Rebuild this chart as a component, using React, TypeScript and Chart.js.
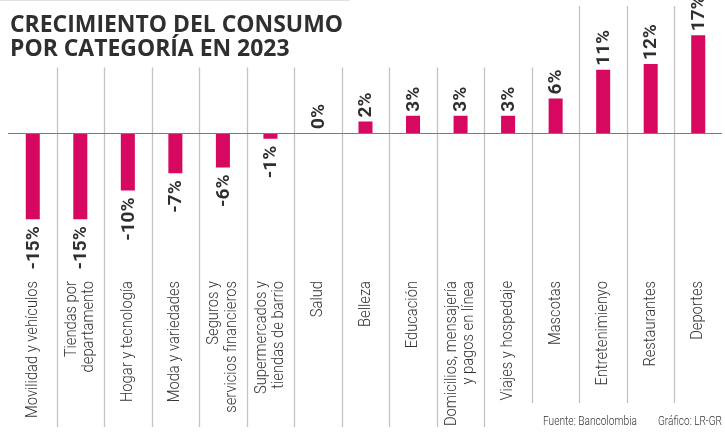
import React, { useEffect, useRef } from "react";
import { Chart, registerables } from "chart.js";

Chart.register(...registerables);

const titleLines = ["CRECIMIENTO DEL CONSUMO", "POR CATEGORÍA EN 2023"];
const categories: string[][] = [
  ["Movilidad y vehículos"],
  ["Tiendas por", "departamento"],
  ["Hogar y tecnología"],
  ["Moda y variedades"],
  ["Seguros y", "servicios financieros"],
  ["Supermercados y", "tiendas de barrio"],
  ["Salud"],
  ["Belleza"],
  ["Educación"],
  ["Domicilios, mensajería", "y pagos en línea"],
  ["Viajes y hospedaje"],
  ["Mascotas"],
  ["Entretenimienyo"],
  ["Restaurantes"],
  ["Deportes"],
];
const growth = [-15, -15, -10, -7, -6, -1, 0, 2, 3, 3, 3, 6, 11, 12, 17];
const sourceText = "Fuente: Bancolombia";
const creditText = "Gráfico: LR-GR";

const BAR_COLOR = "#D6085F";
const TEXT_DARK = "#2f2f2f";
const TEXT_LIGHT = "#333333";
const SEP_COLOR = "#c4c4c4";

const overlay = {
  id: "overlay",
  beforeDatasetsDraw(chart: any) {
    const ctx = chart.ctx;
    const xs = chart.scales.x;
    ctx.save();
    // faint top rule
    ctx.strokeStyle = "#e2e2e2";
    ctx.lineWidth = 1;
    ctx.beginPath();
    ctx.moveTo(0, 0.5);
    ctx.lineTo(350, 0.5);
    ctx.stroke();
    // column separators
    ctx.strokeStyle = SEP_COLOR;
    ctx.lineWidth = 1.3;
    for (let i = 0; i < categories.length - 1; i++) {
      const x = (xs.getPixelForValue(i) + xs.getPixelForValue(i + 1)) / 2;
      const top = i >= 11 ? 6 : 67.5;
      const bottom = i >= 10 ? 403 : 427;
      ctx.beginPath();
      ctx.moveTo(Math.round(x) + 0.5, top);
      ctx.lineTo(Math.round(x) + 0.5, bottom);
      ctx.stroke();
    }
    ctx.restore();
  },
  afterDatasetsDraw(chart: any) {
    const ctx = chart.ctx;
    const xs = chart.scales.x;
    const ys = chart.scales.y;
    const base = ys.getPixelForValue(0);
    ctx.save();
    // baseline
    ctx.strokeStyle = "#7a7a7a";
    ctx.lineWidth = 1.2;
    ctx.beginPath();
    ctx.moveTo(8, Math.round(base) + 0.5);
    ctx.lineTo(722, Math.round(base) + 0.5);
    ctx.stroke();

    // title
    ctx.fillStyle = TEXT_DARK;
    ctx.font = "700 24px 'Open Sans'";
    ctx.textAlign = "left";
    ctx.textBaseline = "alphabetic";
    const k = 333 / ctx.measureText(titleLines[0]).width;
    titleLines.forEach((t, i) => {
      ctx.save();
      ctx.translate(10, 32 + i * 24);
      ctx.scale(k, 1);
      ctx.fillText(t, 0, 0);
      ctx.restore();
    });

    // value labels
    ctx.font = "700 19px Roboto";
    ctx.fillStyle = TEXT_DARK;
    ctx.textBaseline = "middle";
    const meta = chart.getDatasetMeta(0);
    growth.forEach((v, i) => {
      const el = meta.data[i];
      const x = el.x;
      const yEnd = ys.getPixelForValue(v);
      ctx.save();
      if (v >= 0) {
        ctx.translate(x + 1, yEnd - 4);
        ctx.rotate(-Math.PI / 2);
        ctx.textAlign = "left";
      } else {
        ctx.translate(x + 1, yEnd + 7);
        ctx.rotate(-Math.PI / 2);
        ctx.textAlign = "right";
      }
      ctx.fillText(`${v}%`, 0, 0);
      ctx.restore();
    });

    // category labels
    ctx.font = "300 16px Roboto";
    ctx.fillStyle = TEXT_LIGHT;
    ctx.textBaseline = "middle";
    ctx.textAlign = "right";
    const lh = 17.5;
    categories.forEach((lines, i) => {
      const cx = xs.getPixelForValue(i);
      ctx.save();
      ctx.translate(cx, 281);
      ctx.rotate(-Math.PI / 2);
      ctx.scale(0.92, 1);
      lines.forEach((ln, j) => {
        const off = (j - (lines.length - 1) / 2) * lh;
        ctx.fillText(ln, 0, off);
      });
      ctx.restore();
    });

    // footer
    ctx.font = "300 13px Roboto";
    ctx.fillStyle = TEXT_LIGHT;
    ctx.textAlign = "left";
    ctx.textBaseline = "alphabetic";
    ctx.save();
    ctx.translate(543, 425);
    ctx.scale(94 / ctx.measureText(sourceText).width, 1);
    ctx.fillText(sourceText, 0, 0);
    ctx.restore();
    ctx.save();
    ctx.translate(658, 425);
    ctx.scale(64 / ctx.measureText(creditText).width, 1);
    ctx.fillText(creditText, 0, 0);
    ctx.restore();
    ctx.restore();
  },
};

export default function App() {
  const ref = useRef<HTMLCanvasElement | null>(null);
  useEffect(() => {
    if (!ref.current) return;
    const chart = new Chart(ref.current, {
      type: "bar",
      data: {
        labels: categories.map((c) => c.join(" ")),
        datasets: [
          {
            data: growth,
            backgroundColor: BAR_COLOR,
            borderWidth: 0,
            barPercentage: 0.295,
            categoryPercentage: 1,
          },
        ],
      },
      options: {
        responsive: false,
        animation: false,
        devicePixelRatio: 1,
        layout: { padding: { left: 9, right: 3, top: 6.5, bottom: 5.75 } },
        plugins: { legend: { display: false }, tooltip: { enabled: false } },
        scales: {
          x: { type: "category", display: false, offset: true, grid: { display: false } },
          y: { type: "linear", display: false, min: -51, max: 22 },
        },
      },
      plugins: [overlay],
    });
    return () => chart.destroy();
  }, []);
  return (
    <div style={{ position: "absolute", left: 0, top: 0, width: 725, height: 432, background: "#fff" }}>
      <canvas ref={ref} width={725} height={432} style={{ display: "block", width: 725, height: 432 }} />
    </div>
  );
}
